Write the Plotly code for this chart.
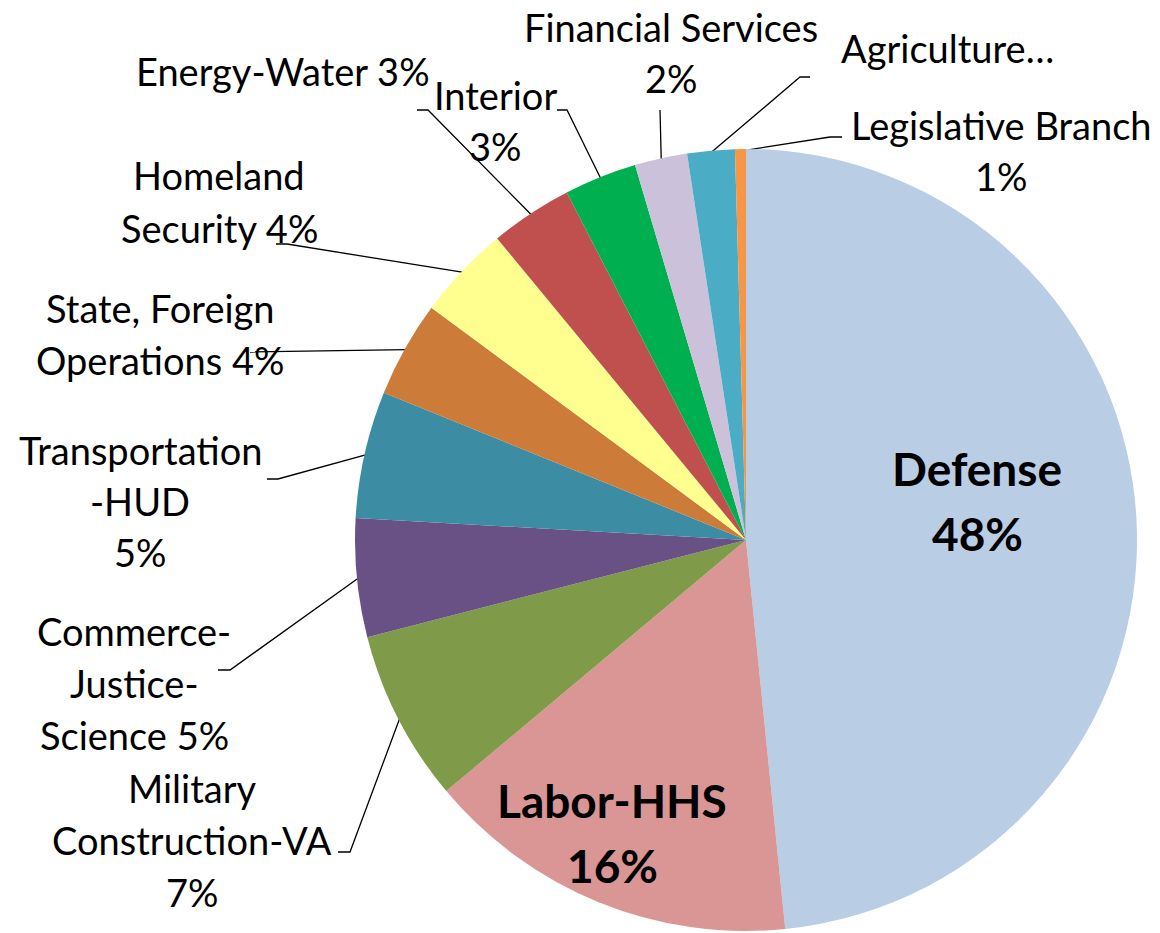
import numpy as np
import plotly.graph_objects as go

W, H = 1160, 933

# share of discretionary appropriations, percent
bills = ['Defense', 'Labor-HHS', 'Military Construction-VA', 'Commerce-Justice-Science',
         'Transportation-HUD', 'State, Foreign Operations', 'Homeland Security',
         'Energy-Water', 'Interior', 'Financial Services', 'Agriculture', 'Legislative Branch']
shares = [48.4, 15.5, 7.1, 4.9, 5.25, 3.97, 3.9, 3.4, 3.0, 2.17, 1.96, 0.45]
pct_text = ['48%', '16%', '7%', '5%', '5%', '4%', '4%', '3%', '3%', '2%', '2%', '1%']
colors = ['#B9CDE5', '#D99694', '#7F9A48', '#695185', '#3C8DA3', '#CC7B38',
          '#FFFF8F', '#C0504D', '#00B050', '#CCC1DA', '#4BACC6', '#F79646']

# label lines (text split as in the original), centre x, first line centre y, line step, bold
label_lines = {
    'Labor-HHS': (['Labor-HHS', '16%'], 612, 800, 65, True),
    'Defense': (['Defense', '48%'], 977, 468, 65, True),
    'Military Construction-VA': (['Military', 'Construction-VA', '7%'], 192, 788, 52, False),
    'Commerce-Justice-Science': (['Commerce-', 'Justice-', 'Science 5%'], 134, 631, 52, False),
    'Transportation-HUD': (['Transportation', '-HUD', '5%'], 140, 450, 51, False),
    'State, Foreign Operations': (['State, Foreign', 'Operations 4%'], 160, 308, 52, False),
    'Homeland Security': (['Homeland', 'Security 4%'], 219, 175, 53, False),
    'Energy-Water': (['Energy-Water 3%'], 283, 71, 52, False),
    'Interior': (['Interior', '3%'], 495, 95, 51, False),
    'Financial Services': (['Financial Services', '2%'], 671, 27, 51, False),
    'Agriculture': (['Agriculture…'], 947, 48, 52, False),
    'Legislative Branch': (['Legislative Branch', '1%'], 1001, 125, 51, False),
}

# leader line elbows / ends for the outside labels
leader_pts = {
    'Military Construction-VA': [(350, 852), (338, 852)],
    'Commerce-Justice-Science': [(230, 670), (218, 670)],
    'Transportation-HUD': [(278, 479), (267, 479)],
    'State, Foreign Operations': [(250, 352)],
    'Homeland Security': [(287, 244), (276, 244)],
    'Energy-Water': [(428, 110), (417, 110)],
    'Interior': [(567, 110), (557, 110)],
    'Financial Services': [(660, 110)],
    'Agriculture': [(800, 77), (810, 77)],
    'Legislative Branch': [(830, 137), (842, 137)],
}

cx, cy, r = 746, 540, 391

fig = go.Figure()
fig.add_trace(go.Pie(
    labels=bills, values=shares, sort=False, direction='clockwise', rotation=0,
    marker=dict(colors=colors, line=dict(width=0)),
    textinfo='none', hoverinfo='label+percent', showlegend=False,
    domain=dict(x=[(cx - r) / W, (cx + r) / W], y=[(H - cy - r) / H, (H - cy + r) / H]),
))

# leader lines start on the rim at each slice's mid angle
total = sum(shares)
cum = np.cumsum([0] + shares)
for i, b in enumerate(bills):
    if b not in leader_pts:
        continue
    mid = (cum[i] + shares[i] / 2) / total * 2 * np.pi
    x0 = cx + (r - 2) * np.sin(mid)
    y0 = cy - (r - 2) * np.cos(mid)
    pts = [(x0, y0)] + leader_pts[b]
    fig.add_trace(go.Scatter(x=[p[0] for p in pts], y=[p[1] for p in pts], mode='lines',
                             line=dict(color='black', width=1.3), hoverinfo='skip',
                             showlegend=False))

for b, (lines, lx, ly, step, bold) in label_lines.items():
    for k, t in enumerate(lines):
        fig.add_annotation(x=lx, y=ly + k * step, xref='x', yref='y', text=f'<b>{t}</b>' if bold else t,
                           showarrow=False, xanchor='center', yanchor='middle',
                           font=dict(family='Lato', size=46 if bold else 38, color='black'))

fig.update_xaxes(range=[0, W], visible=False, fixedrange=True)
fig.update_yaxes(range=[H, 0], visible=False, fixedrange=True)
fig.update_layout(width=W, height=H, margin=dict(l=0, r=0, t=0, b=0),
                  paper_bgcolor='white', plot_bgcolor='white', showlegend=False)

# drop the page's default body margin so the figure fills the window
fig.write_html("out.html", config={'displayModeBar': False},
               post_script="document.body.style.margin='0';")
